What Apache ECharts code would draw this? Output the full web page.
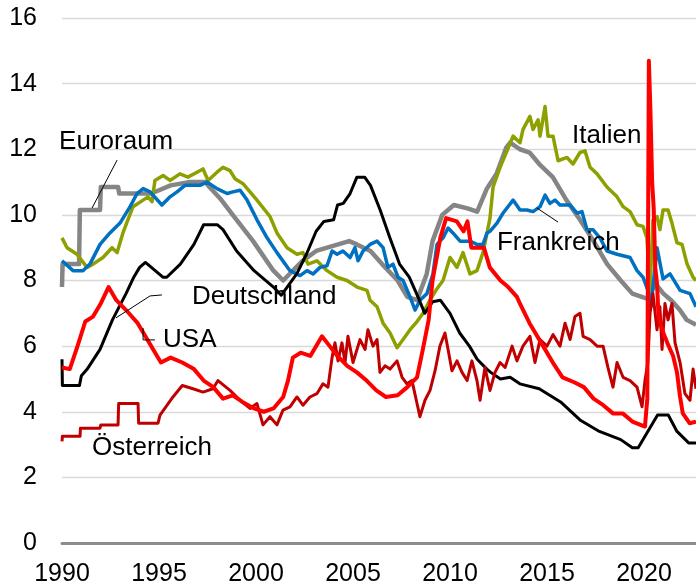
<!DOCTYPE html>
<html>
<head>
<meta charset="utf-8">
<script src="https://cdn.jsdelivr.net/npm/echarts@6/dist/echarts.min.js"></script>
<style>
  html, body { margin: 0; padding: 0; background: #fff; }
  #chart { width: 696px; height: 587px; }
</style>
</head>
<body>
<div id="chart"></div>
<script>
// Arbeitslosenquote in %, [Jahr, Wert]
var euroraum = [
  [1990.0, 7.8], [1990.03, 8.5], [1990.88, 8.5], [1990.92, 10.15], [1991.96, 10.15], [1992.0, 10.85],
  [1992.89, 10.85], [1992.95, 10.65], [1994.6, 10.65], [1995.0, 10.75], [1995.6, 10.9], [1996.6, 11.0],
  [1997.4, 11.0], [1997.6, 10.85], [1998.15, 10.5], [1998.8, 10.0], [1999.85, 9.2], [2000.9, 8.3],
  [2001.4, 8.0], [2002.4, 8.6], [2003.1, 8.9], [2004.8, 9.2], [2005.2, 9.1], [2005.9, 8.9], [2006.5, 8.5],
  [2007.3, 8.0], [2007.8, 7.5], [2008.3, 7.4], [2008.8, 8.2], [2009.1, 9.2], [2009.6, 10.0], [2010.2, 10.3],
  [2010.9, 10.2], [2011.4, 10.1], [2011.9, 10.8], [2012.4, 11.25], [2012.9, 12.05], [2013.1, 12.2],
  [2013.6, 12.0], [2014.1, 11.9], [2014.6, 11.55], [2015.3, 11.15], [2016.0, 10.45], [2016.7, 9.85],
  [2017.4, 9.2], [2018.1, 8.5], [2018.8, 8.0], [2019.4, 7.6], [2020.15, 7.45], [2020.6, 7.9], [2021.0, 7.6],
  [2021.4, 7.4], [2021.85, 7.1], [2022.2, 6.8], [2022.68, 6.65]
];
var italien = [
  [1990.0, 9.3], [1990.26, 9.0], [1990.77, 8.8], [1991.29, 8.4], [1991.6, 8.5], [1992.11, 8.7], [1992.58, 9.0],
  [1992.84, 8.85], [1993.14, 9.45], [1993.66, 10.25], [1994.18, 10.45], [1994.43, 10.55], [1994.64, 10.4],
  [1994.79, 11.05], [1995.21, 11.2], [1995.57, 11.05], [1996.08, 11.25], [1996.49, 11.15], [1996.96, 11.3],
  [1997.27, 11.4], [1997.53, 11.05], [1997.99, 11.3], [1998.3, 11.45], [1998.66, 11.35], [1998.92, 11.1],
  [1999.33, 10.95], [2000.05, 10.45], [2000.72, 9.95], [2001.08, 9.45], [2001.6, 9.0], [2002.11, 8.8],
  [2002.42, 8.85], [2002.68, 8.5], [2003.14, 8.6], [2003.66, 8.3], [2004.18, 8.1], [2004.69, 8.0],
  [2005.21, 7.8], [2005.72, 7.7], [2005.88, 7.4], [2006.24, 7.2], [2006.55, 6.7], [2006.91, 6.4],
  [2007.27, 5.95], [2007.58, 6.2], [2007.94, 6.5], [2008.3, 6.75], [2008.61, 7.0], [2008.97, 7.4],
  [2009.33, 7.75], [2009.64, 8.0], [2010.0, 8.7], [2010.36, 8.4], [2010.67, 8.85], [2011.03, 8.2],
  [2011.39, 8.3], [2011.7, 8.85], [2011.91, 9.45], [2012.06, 9.9], [2012.22, 10.85], [2012.58, 11.45],
  [2012.94, 11.95], [2013.25, 12.4], [2013.61, 12.2], [2013.76, 12.6], [2014.12, 13.0], [2014.28, 12.6],
  [2014.54, 12.9], [2014.64, 12.4], [2014.9, 13.3], [2015.05, 12.4], [2015.31, 12.4], [2015.57, 11.65],
  [2016.03, 11.75], [2016.34, 11.55], [2016.7, 11.9], [2016.96, 11.95], [2017.22, 11.45], [2017.58, 11.25],
  [2018.09, 10.85], [2018.61, 10.55], [2018.92, 10.25], [2019.28, 10.1], [2019.64, 9.7], [2019.95, 9.65],
  [2020.15, 9.3], [2020.31, 7.7], [2020.46, 9.85], [2020.67, 9.95], [2020.82, 9.55], [2020.98, 10.15],
  [2021.24, 10.15], [2021.44, 9.75], [2021.7, 9.15], [2021.96, 9.1], [2022.22, 8.5], [2022.53, 8.1],
  [2022.68, 8.0]
];
var frankreich = [
  [1990.0, 8.6], [1990.57, 8.3], [1991.08, 8.3], [1991.44, 8.5], [1991.96, 9.1], [1992.47, 9.45],
  [1992.99, 9.75], [1993.51, 10.25], [1993.87, 10.65], [1994.18, 10.8], [1994.54, 10.7], [1995.15, 10.3],
  [1995.57, 10.55], [1995.93, 10.7], [1996.34, 10.9], [1997.11, 10.9], [1997.47, 11.0], [1997.99, 10.8],
  [1998.51, 10.65], [1998.81, 10.7], [1999.18, 10.75], [1999.54, 10.45], [2000.05, 9.85], [2000.57, 9.3],
  [2001.08, 8.85], [2001.75, 8.3], [2002.27, 8.15], [2002.63, 8.3], [2002.94, 8.2], [2003.3, 8.4],
  [2003.66, 8.45], [2003.92, 8.9], [2004.18, 8.8], [2004.48, 8.9], [2004.85, 8.7], [2005.1, 9.0],
  [2005.26, 8.6], [2005.52, 8.9], [2005.88, 9.1], [2006.24, 9.2], [2006.55, 9.0], [2006.8, 8.4],
  [2007.06, 8.5], [2007.32, 8.1], [2007.58, 8.0], [2007.94, 7.5], [2008.2, 7.1], [2008.45, 7.4],
  [2008.81, 7.6], [2009.12, 8.2], [2009.33, 9.1], [2009.64, 9.3], [2009.9, 9.6], [2010.15, 9.45],
  [2010.52, 9.2], [2011.03, 9.2], [2011.39, 9.1], [2011.7, 9.1], [2011.91, 9.45], [2012.06, 9.5],
  [2012.42, 9.75], [2012.73, 10.05], [2013.25, 10.45], [2013.61, 10.15], [2013.97, 10.15], [2014.28, 10.1],
  [2014.64, 10.25], [2014.9, 10.6], [2015.15, 10.35], [2015.41, 10.45], [2015.67, 10.3], [2016.19, 10.3],
  [2016.55, 10.05], [2016.8, 10.1], [2017.06, 9.55], [2017.37, 9.55], [2017.73, 9.3], [2018.09, 8.9],
  [2018.61, 8.8], [2019.28, 8.7], [2019.64, 8.3], [2019.95, 8.1], [2020.2, 7.7], [2020.36, 7.2],
  [2020.67, 9.0], [2020.98, 8.05], [2021.34, 8.2], [2021.86, 7.7], [2022.37, 7.6], [2022.68, 7.2]
];
var deutschland = [
  [1990.0, 5.6], [1990.02, 4.8], [1990.9, 4.8], [1991.0, 5.1], [1991.3, 5.3], [1991.96, 5.9], [1992.6, 6.8],
  [1993.3, 7.6], [1993.7, 8.1], [1994.0, 8.4], [1994.3, 8.55], [1995.2, 8.1], [1995.4, 8.1], [1996.1, 8.5],
  [1996.8, 9.1], [1997.3, 9.7], [1998.0, 9.7], [1998.3, 9.55], [1999.0, 8.9], [1999.9, 8.3], [2000.9, 7.8],
  [2001.3, 7.55], [2002.1, 8.2], [2002.6, 8.8], [2003.1, 9.5], [2003.5, 9.8], [2004.0, 9.85], [2004.2, 10.3],
  [2004.5, 10.35], [2004.85, 10.65], [2005.2, 11.15], [2005.6, 11.15], [2005.9, 10.9], [2006.4, 10.15],
  [2006.9, 9.3], [2007.4, 8.5], [2007.9, 8.1], [2008.35, 7.5], [2008.7, 7.0], [2009.1, 7.35], [2009.5, 7.4],
  [2010.0, 7.0], [2010.5, 6.4], [2011.0, 6.0], [2011.4, 5.6], [2011.9, 5.3], [2012.1, 5.2], [2012.6, 5.0],
  [2013.1, 5.05], [2013.6, 4.85], [2014.6, 4.7], [2015.7, 4.3], [2016.7, 3.75], [2017.7, 3.4],
  [2018.8, 3.15], [2019.4, 2.9], [2019.7, 2.9], [2020.15, 3.35], [2020.7, 3.9], [2021.25, 3.9],
  [2021.7, 3.4], [2022.3, 3.05], [2022.68, 3.05]
];
var oesterreich = [
  [1990.0, 3.1], [1990.02, 3.25], [1990.93, 3.25], [1990.95, 3.5], [1991.96, 3.5], [1992.0, 3.6],
  [1992.89, 3.6], [1992.92, 4.25], [1993.92, 4.25], [1993.95, 3.65], [1994.95, 3.65], [1995.05, 3.9],
  [1995.72, 4.45], [1996.2, 4.8], [1996.75, 4.7], [1997.27, 4.6], [1997.78, 4.7], [1998.04, 4.95],
  [1998.66, 4.65], [1999.18, 4.35], [1999.69, 4.1], [2000.05, 4.25], [2000.36, 3.6], [2000.72, 3.85],
  [2001.08, 3.6], [2001.39, 4.05], [2001.75, 4.15], [2002.11, 4.45], [2002.42, 4.2], [2002.78, 4.45],
  [2003.14, 4.55], [2003.45, 4.85], [2003.71, 4.75], [2003.92, 5.65], [2004.07, 6.1], [2004.23, 5.55],
  [2004.43, 6.1], [2004.59, 5.5], [2004.74, 6.3], [2005.0, 5.5], [2005.36, 6.2], [2005.62, 5.9],
  [2005.77, 6.5], [2006.03, 6.0], [2006.24, 6.2], [2006.39, 5.2], [2006.65, 5.4], [2006.91, 5.3],
  [2007.27, 5.55], [2007.53, 5.05], [2007.78, 4.85], [2008.04, 4.95], [2008.3, 4.25], [2008.45, 3.85],
  [2008.71, 4.35], [2008.97, 4.65], [2009.23, 5.25], [2009.48, 6.0], [2009.74, 6.4], [2009.9, 5.9],
  [2010.1, 5.25], [2010.36, 5.55], [2010.62, 5.2], [2010.88, 4.95], [2011.13, 5.55], [2011.39, 4.95],
  [2011.55, 4.35], [2011.8, 5.35], [2012.06, 4.65], [2012.32, 5.2], [2012.58, 5.5], [2012.84, 5.35],
  [2013.2, 6.0], [2013.45, 5.55], [2013.76, 6.0], [2014.12, 6.3], [2014.38, 5.5], [2014.64, 6.2],
  [2015.0, 6.0], [2015.31, 6.35], [2015.67, 6.0], [2015.93, 6.7], [2016.19, 6.2], [2016.44, 6.9],
  [2016.7, 7.0], [2016.86, 6.3], [2017.22, 6.2], [2017.58, 6.0], [2017.89, 6.0], [2018.14, 5.35],
  [2018.4, 4.75], [2018.61, 5.5], [2018.92, 5.05], [2019.28, 4.95], [2019.64, 4.75], [2019.9, 4.15],
  [2020.05, 4.95], [2020.2, 5.5], [2020.31, 7.0], [2020.46, 7.6], [2020.67, 6.5], [2020.82, 7.2],
  [2020.93, 5.9], [2021.08, 7.3], [2021.24, 6.8], [2021.44, 7.3], [2021.6, 6.1], [2021.86, 5.5],
  [2022.11, 4.55], [2022.37, 4.35], [2022.53, 5.3], [2022.68, 4.7]
];
var usa = [
  [1990.0, 5.35], [1990.4, 5.3], [1990.8, 6.0], [1991.2, 6.75], [1991.6, 6.9], [1992.0, 7.3], [1992.4, 7.8],
  [1992.8, 7.4], [1993.3, 7.1], [1993.9, 6.7], [1994.3, 6.3], [1994.7, 5.9], [1995.1, 5.5], [1995.6, 5.65],
  [1996.2, 5.5], [1996.8, 5.3], [1997.3, 4.95], [1997.8, 4.75], [1998.3, 4.4], [1998.8, 4.5], [1999.3, 4.3],
  [1999.9, 4.1], [2000.4, 4.0], [2000.9, 4.1], [2001.4, 4.45], [2001.65, 4.95], [2001.9, 5.65],
  [2002.3, 5.8], [2002.8, 5.7], [2003.4, 6.3], [2003.8, 6.0], [2004.2, 5.7], [2004.7, 5.4], [2005.2, 5.2],
  [2005.7, 4.95], [2006.2, 4.65], [2006.7, 4.45], [2007.3, 4.5], [2007.8, 4.75], [2008.3, 5.05],
  [2008.6, 5.9], [2008.9, 6.8], [2009.1, 8.0], [2009.5, 9.3], [2009.8, 9.9], [2010.35, 9.8], [2010.7, 9.5],
  [2010.9, 9.8], [2011.1, 9.0], [2011.5, 9.0], [2011.75, 9.0], [2012.05, 8.4], [2012.6, 8.0], [2013.0, 7.8],
  [2013.45, 7.5], [2013.6, 7.3], [2014.1, 6.7], [2014.4, 6.4], [2014.8, 6.0], [2015.3, 5.5], [2015.8, 5.05],
  [2016.4, 4.9], [2016.9, 4.75], [2017.4, 4.4], [2017.9, 4.2], [2018.4, 3.95], [2018.9, 3.95],
  [2019.4, 3.7], [2020.05, 3.55], [2020.17, 4.4], [2020.25, 14.7], [2020.33, 13.2], [2020.42, 11.0],
  [2020.5, 10.2], [2020.58, 8.4], [2020.67, 7.9], [2020.75, 6.9], [2020.83, 6.7], [2020.92, 6.7],
  [2021.0, 6.4], [2021.2, 6.1], [2021.5, 5.7], [2021.7, 5.2], [2021.86, 4.45], [2022.0, 3.95],
  [2022.35, 3.65], [2022.68, 3.7]
];
var yearTicks = [1990, 1995, 2000, 2005, 2010, 2015, 2020];

var font = "'Liberation Sans', Arial, sans-serif";

function line(name, data, color, width) {
  return {
    name: name,
    type: "line",
    data: data,
    showSymbol: false,
    symbol: "none",
    animation: false,
    lineStyle: { color: color, width: width, join: "round" }
  };
}

var myChart = echarts.init(document.getElementById("chart"));
myChart.setOption({
  animation: false,
  grid: { left: 62, right: 0, top: 18, bottom: 44, containLabel: false },
  xAxis: {
    type: "value",
    min: 1990,
    max: 2022.68,
    interval: 5,
    axisLine: { show: true, onZero: false, lineStyle: { color: "#8c8c8c", width: 3 } },
    axisTick: { show: false },
    splitLine: { show: false },
    axisLabel: {
      color: "#000",
      fontFamily: font,
      fontSize: 25,
      margin: 19,
      showMaxLabel: false,
      formatter: function (v) {
        return yearTicks.indexOf(v) >= 0 ? String(v) : "";
      }
    }
  },
  yAxis: {
    type: "value",
    min: 0,
    max: 16,
    interval: 2,
    axisLine: { show: false },
    axisTick: { show: false },
    splitLine: { lineStyle: { color: "#d9d9d9", width: 1.3 } },
    axisLabel: { color: "#000", fontFamily: font, fontSize: 25, margin: 25 }
  },
  series: [
    line("Euroraum", euroraum, "#858585", 4.5),
    line("Italien", italien, "#8ea000", 3.5),
    line("Frankreich", frankreich, "#0070c0", 3.5),
    line("Deutschland", deutschland, "#000000", 3),
    line("Österreich", oesterreich, "#c00000", 3),
    line("USA", usa, "#ff0000", 4)
  ]
});

// Beschriftungen und Hinweislinien, in Datenkoordinaten verankert
var labels = [
  { text: "Euroraum", at: [1989.85, 12.22], leader: [[1992.84, 11.67], [1991.55, 10.21]] },
  { text: "Deutschland", at: [1996.7, 7.5], leader: [[1995.15, 7.56], [1994.54, 7.53], [1992.78, 6.86]] },
  { text: "USA", at: [1995.21, 6.19], leader: [[1994.79, 6.19], [1994.18, 6.19], [1994.18, 6.55]] },
  { text: "Österreich", at: [1991.55, 2.9] },
  { text: "Italien", at: [2016.29, 12.4] },
  { text: "Frankreich", at: [2012.42, 9.14], leader: [[2015.57, 9.78], [2014.48, 10.21]] }
];

var elements = [];
labels.forEach(function (l) {
  var p = myChart.convertToPixel({ gridIndex: 0 }, l.at);
  elements.push({
    type: "text",
    x: p[0],
    y: p[1],
    z: 100,
    style: { text: l.text, fill: "#000", font: "26px " + font, textAlign: "left", textVerticalAlign: "middle" }
  });
  if (l.leader) {
    elements.push({
      type: "polyline",
      z: 100,
      shape: { points: l.leader.map(function (d) { return myChart.convertToPixel({ gridIndex: 0 }, d); }) },
      style: { stroke: "#000", lineWidth: 1, fill: null }
    });
  }
});
myChart.setOption({ graphic: elements });
</script>
</body>
</html>
